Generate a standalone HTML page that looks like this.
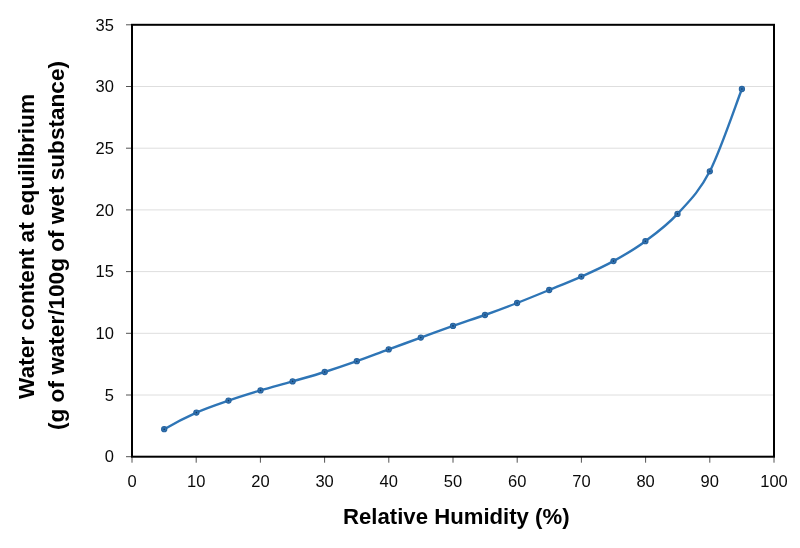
<!DOCTYPE html>
<html lang="en"><head><meta charset="utf-8"><title>Water content at equilibrium vs Relative Humidity</title>
<style>
html,body{margin:0;padding:0;background:#fff;}
body{width:800px;height:548px;overflow:hidden;}
svg{display:block;}
text{font-family:"Liberation Sans",sans-serif;fill:#0a0a0a;}
.tk{font-size:16.5px;}
.ti{font-size:22.6px;font-weight:bold;fill:#000;}
</style></head><body>
<svg width="800" height="548" viewBox="0 0 800 548">
<rect x="0" y="0" width="800" height="548" fill="#ffffff"/>
<g stroke="#dedede" stroke-width="1" fill="none">
<line x1="132.0" y1="395.00" x2="773.0" y2="395.00"/>
<line x1="132.0" y1="333.30" x2="773.0" y2="333.30"/>
<line x1="132.0" y1="271.60" x2="773.0" y2="271.60"/>
<line x1="132.0" y1="209.90" x2="773.0" y2="209.90"/>
<line x1="132.0" y1="148.20" x2="773.0" y2="148.20"/>
<line x1="132.0" y1="86.50" x2="773.0" y2="86.50"/>
</g>
<g stroke="#404040" stroke-width="0.9" fill="none">
<line x1="126" y1="456.70" x2="132" y2="456.70"/>
<line x1="126" y1="395.00" x2="132" y2="395.00"/>
<line x1="126" y1="333.30" x2="132" y2="333.30"/>
<line x1="126" y1="271.60" x2="132" y2="271.60"/>
<line x1="126" y1="209.90" x2="132" y2="209.90"/>
<line x1="126" y1="148.20" x2="132" y2="148.20"/>
<line x1="126" y1="86.50" x2="132" y2="86.50"/>
<line x1="126" y1="24.80" x2="132" y2="24.80"/>
<line x1="132.00" y1="456.7" x2="132.00" y2="462.7"/>
<line x1="196.20" y1="456.7" x2="196.20" y2="462.7"/>
<line x1="260.40" y1="456.7" x2="260.40" y2="462.7"/>
<line x1="324.60" y1="456.7" x2="324.60" y2="462.7"/>
<line x1="388.80" y1="456.7" x2="388.80" y2="462.7"/>
<line x1="453.00" y1="456.7" x2="453.00" y2="462.7"/>
<line x1="517.20" y1="456.7" x2="517.20" y2="462.7"/>
<line x1="581.40" y1="456.7" x2="581.40" y2="462.7"/>
<line x1="645.60" y1="456.7" x2="645.60" y2="462.7"/>
<line x1="709.80" y1="456.7" x2="709.80" y2="462.7"/>
<line x1="774.00" y1="456.7" x2="774.00" y2="462.7"/>
</g>
<path d="M164.2,429.2 C174.9,422.9 185.7,417.4 196.4,412.6 C207.1,407.8 217.8,404.3 228.5,400.6 C239.2,396.9 249.8,393.6 260.5,390.4 C271.2,387.2 281.9,384.5 292.6,381.4 C303.3,378.3 314.0,375.4 324.7,372.0 C335.4,368.6 346.1,365.0 356.8,361.2 C367.5,357.4 378.0,353.3 388.7,349.4 C399.4,345.5 410.1,341.5 420.8,337.6 C431.5,333.7 442.3,329.7 453.0,325.9 C463.7,322.1 474.3,318.8 485.0,315.0 C495.7,311.2 506.4,307.2 517.1,303.0 C527.8,298.8 538.5,294.4 549.2,290.0 C559.9,285.6 570.6,281.4 581.3,276.6 C592.0,271.8 602.8,267.0 613.5,261.1 C624.2,255.2 634.7,249.1 645.4,241.2 C656.1,233.3 666.8,225.6 677.5,213.9 C688.2,202.2 699.1,192.1 709.8,171.3 C720.5,150.5 736.5,102.7 741.9,89.0" fill="none" stroke="#2e75b6" stroke-width="2.4" stroke-linecap="round" stroke-linejoin="round"/>
<g fill="#3173b2" stroke="#28649f" stroke-width="1.1">
<circle cx="164.2" cy="429.2" r="2.6"/>
<circle cx="196.4" cy="412.6" r="2.6"/>
<circle cx="228.5" cy="400.6" r="2.6"/>
<circle cx="260.5" cy="390.4" r="2.6"/>
<circle cx="292.6" cy="381.4" r="2.6"/>
<circle cx="324.7" cy="372.0" r="2.6"/>
<circle cx="356.8" cy="361.2" r="2.6"/>
<circle cx="388.7" cy="349.4" r="2.6"/>
<circle cx="420.8" cy="337.6" r="2.6"/>
<circle cx="453.0" cy="325.9" r="2.6"/>
<circle cx="485.0" cy="315.0" r="2.6"/>
<circle cx="517.1" cy="303.0" r="2.6"/>
<circle cx="549.2" cy="290.0" r="2.6"/>
<circle cx="581.3" cy="276.6" r="2.6"/>
<circle cx="613.5" cy="261.1" r="2.6"/>
<circle cx="645.4" cy="241.2" r="2.6"/>
<circle cx="677.5" cy="213.9" r="2.6"/>
<circle cx="709.8" cy="171.3" r="2.6"/>
<circle cx="741.9" cy="89.0" r="2.6"/>
</g>
<g fill="#12365e">
<circle cx="164.2" cy="429.2" r="0.8"/>
<circle cx="196.4" cy="412.6" r="0.8"/>
<circle cx="228.5" cy="400.6" r="0.8"/>
<circle cx="260.5" cy="390.4" r="0.8"/>
<circle cx="292.6" cy="381.4" r="0.8"/>
<circle cx="324.7" cy="372.0" r="0.8"/>
<circle cx="356.8" cy="361.2" r="0.8"/>
<circle cx="388.7" cy="349.4" r="0.8"/>
<circle cx="420.8" cy="337.6" r="0.8"/>
<circle cx="453.0" cy="325.9" r="0.8"/>
<circle cx="485.0" cy="315.0" r="0.8"/>
<circle cx="517.1" cy="303.0" r="0.8"/>
<circle cx="549.2" cy="290.0" r="0.8"/>
<circle cx="581.3" cy="276.6" r="0.8"/>
<circle cx="613.5" cy="261.1" r="0.8"/>
<circle cx="645.4" cy="241.2" r="0.8"/>
<circle cx="677.5" cy="213.9" r="0.8"/>
<circle cx="709.8" cy="171.3" r="0.8"/>
<circle cx="741.9" cy="89.0" r="0.8"/>
</g>
<rect x="132.0" y="24.8" width="642.0" height="431.9" fill="none" stroke="#000" stroke-width="2"/>
<g class="tk" text-anchor="end">
<text x="113.9" y="462.40">0</text>
<text x="113.9" y="400.70">5</text>
<text x="113.9" y="339.00">10</text>
<text x="113.9" y="277.30">15</text>
<text x="113.9" y="215.60">20</text>
<text x="113.9" y="153.90">25</text>
<text x="113.9" y="92.20">30</text>
<text x="113.9" y="30.50">35</text>
</g>
<g class="tk" text-anchor="middle">
<text x="132.00" y="487.4">0</text>
<text x="196.20" y="487.4">10</text>
<text x="260.40" y="487.4">20</text>
<text x="324.60" y="487.4">30</text>
<text x="388.80" y="487.4">40</text>
<text x="453.00" y="487.4">50</text>
<text x="517.20" y="487.4">60</text>
<text x="581.40" y="487.4">70</text>
<text x="645.60" y="487.4">80</text>
<text x="709.80" y="487.4">90</text>
<text x="774.00" y="487.4">100</text>
</g>
<text class="ti" x="456.3" y="523.6" text-anchor="middle" textLength="226.5" lengthAdjust="spacingAndGlyphs">Relative Humidity (%)</text>
<text class="ti" transform="translate(34.0,246.4) rotate(-90)" text-anchor="middle" textLength="305" lengthAdjust="spacingAndGlyphs">Water content at equilibrium</text>
<text class="ti" transform="translate(64.0,245.5) rotate(-90)" text-anchor="middle" textLength="369" lengthAdjust="spacingAndGlyphs">(g of water/100g of wet substance)</text>
</svg>
</body></html>
